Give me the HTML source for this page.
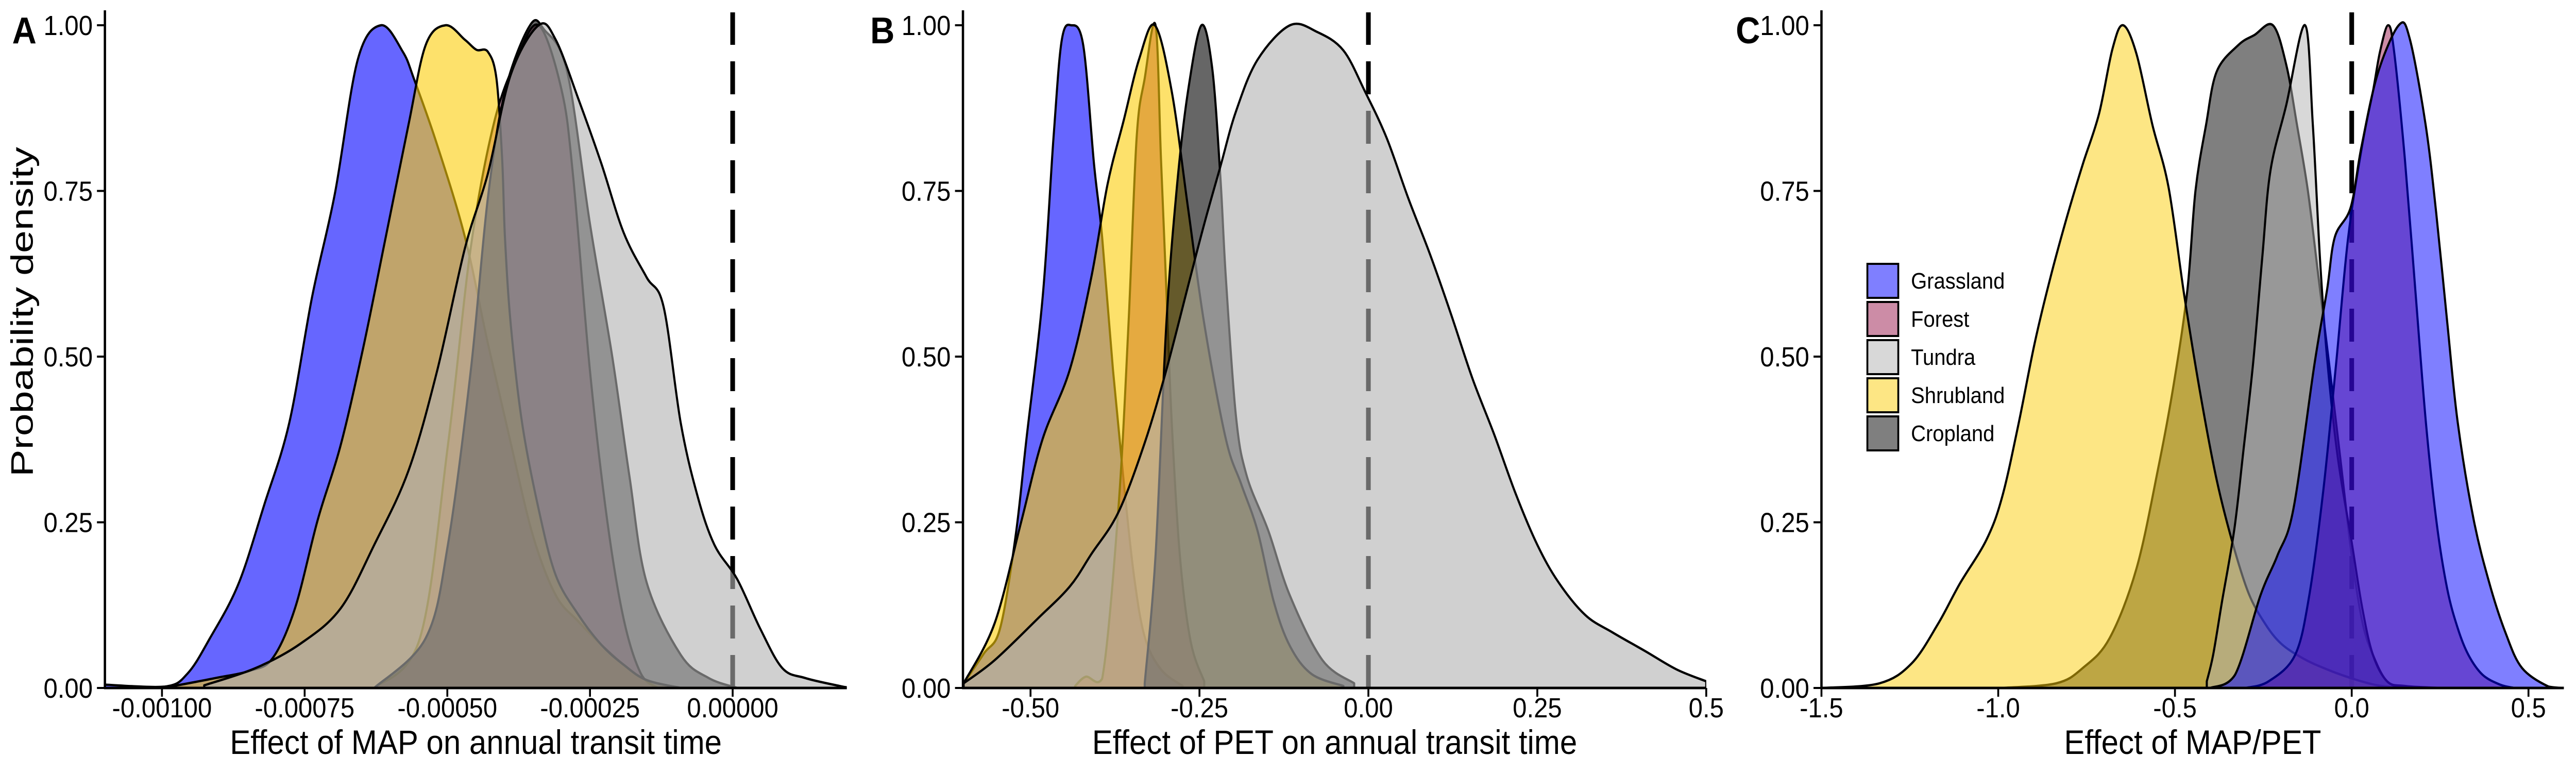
<!DOCTYPE html>
<html><head><meta charset="utf-8"><style>
html,body{margin:0;padding:0;background:#fff;width:100%;height:100%;overflow:hidden;}
svg{display:block;width:100vw;height:100vh;font-family:"Liberation Sans",Arial,sans-serif;}
</style></head><body>
<svg id="chart" viewBox="0 0 5500 1500" preserveAspectRatio="none" xmlns="http://www.w3.org/2000/svg"></svg>
<script>
// ---------- DATA ----------
const seriesNames = ["Grassland","Forest","Tundra","Shrubland","Cropland"];
const baseColors = {Grassland:"#0000ff",Forest:"rgb(153,25,77)",Tundra:"rgb(177,177,177)",Shrubland:"rgb(251,205,9)",Cropland:"#000000"};

// Panel A (Effect of MAP)
const aGrassX=[-11.0,-9.95,-9.55,-9.16,-8.66,-8.21,-7.77,-7.37,-6.97,-6.57,-6.16,-5.78,-5.58,-5.18,-4.69,-4.29,-3.89,-3.50,-3.10,-2.70,-2.30,-1.91,-1.51,-0.91].map(v=>v*1e-4);
const aGrassY=[0.005,0.002,0.022,0.075,0.157,0.276,0.40,0.59,0.746,0.948,1,0.96,0.918,0.82,0.68,0.52,0.37,0.23,0.14,0.10,0.065,0.035,0.012,0];
const aForestX=[-6.28,-5.48,-4.99,-4.59,-4.19,-3.79,-3.40,-3.00,-2.80,-2.50,-2.20,-1.91,-1.61,-1.31].map(v=>v*1e-4);
const aForestY=[0,0.075,0.366,0.664,0.85,0.948,1,0.903,0.776,0.478,0.254,0.104,0.022,0];
const aTundraX=[-9.26,-8.36,-7.57,-6.87,-6.28,-5.68,-5.18,-4.69,-4.29,-3.89,-3.40,-3.10,-2.70,-2.30,-1.91,-1.51,-1.21,-0.91,-0.62,-0.32,0.08,0.48,0.87,1.27,1.87,2.0].map(v=>v*1e-4);
const aTundraY=[0.004,0.03,0.067,0.12,0.216,0.328,0.478,0.664,0.776,0.925,1,0.978,0.888,0.791,0.687,0.62,0.575,0.40,0.291,0.216,0.164,0.09,0.03,0.015,0.003,0.001];
const aShrubX=[-9.85,-9.06,-8.46,-8.06,-7.67,-7.27,-6.87,-6.47,-6.08,-5.68,-5.38,-5.03,-4.69,-4.49,-4.29,-4.14,-4.04,-3.99,-3.89,-3.69,-3.40,-3.10,-2.70,-2.30,-1.91,-1.51,-0.91].map(v=>v*1e-4);
const aShrubY=[0.002,0.015,0.026,0.045,0.12,0.254,0.366,0.515,0.68,0.85,0.97,1,0.978,0.963,0.96,0.92,0.80,0.68,0.55,0.40,0.27,0.17,0.11,0.065,0.035,0.012,0];
const aCropX=[-6.28,-5.38,-4.99,-4.59,-4.29,-3.99,-3.55,-3.30,-2.90,-2.50,-2.11,-1.81,-1.51,-0.91,-0.42,0.08].map(v=>v*1e-4);
const aCropY=[0,0.075,0.216,0.478,0.739,0.90,1,0.993,0.93,0.70,0.50,0.32,0.16,0.05,0.015,0];

// Panel B (Effect of PET)
const bGrassX=[-0.599,-0.569,-0.545,-0.522,-0.506,-0.482,-0.466,-0.454,-0.44,-0.422,-0.406,-0.394,-0.378,-0.362,-0.347,-0.331,-0.307,-0.275];
const bGrassY=[0.007,0.052,0.09,0.23,0.376,0.59,0.83,0.976,1,0.97,0.79,0.68,0.48,0.31,0.17,0.077,0.028,0.003];
const bForestX=[-0.434,-0.418,-0.394,-0.370,-0.355,-0.343,-0.331,-0.315,-0.307,-0.299,-0.291,-0.279,-0.263,-0.243];
const bForestY=[0.003,0.017,0.014,0.27,0.55,0.83,0.92,1,0.8,0.6,0.4,0.2,0.07,0.01];
const bTundraX=[-0.599,-0.553,-0.49,-0.442,-0.41,-0.370,-0.331,-0.299,-0.267,-0.243,-0.219,-0.196,-0.164,-0.116,-0.076,-0.037,-0.005,0.027,0.059,0.091,0.122,0.154,0.186,0.218,0.250,0.281,0.321,0.361,0.409,0.456,0.500];
const bTundraY=[0.007,0.042,0.104,0.153,0.202,0.265,0.37,0.48,0.606,0.70,0.787,0.87,0.948,1,0.99,0.962,0.9,0.83,0.739,0.655,0.565,0.467,0.383,0.293,0.216,0.16,0.11,0.084,0.056,0.028,0.01];
const bShrubX=[-0.599,-0.553,-0.514,-0.482,-0.442,-0.41,-0.386,-0.362,-0.339,-0.316,-0.291,-0.267,-0.243,-0.211,-0.188,-0.164,-0.140,-0.116,-0.084,-0.037];
const bShrubY=[0.007,0.098,0.25,0.376,0.48,0.62,0.76,0.857,0.95,1,0.9,0.725,0.55,0.376,0.307,0.237,0.13,0.063,0.021,0.003];
const bCropX=[-0.331,-0.315,-0.299,-0.283,-0.267,-0.247,-0.231,-0.219,-0.211,-0.196,-0.180,-0.148,-0.116,-0.068,-0.021];
const bCropY=[0.007,0.2,0.55,0.76,0.9,1,0.934,0.77,0.62,0.41,0.32,0.237,0.139,0.042,0.007];

// Panel C (Effect of MAP/PET)
const cGrassX=[-0.40,-0.33,-0.258,-0.21,-0.165,-0.105,-0.07,-0.048,-0.003,0.027,0.073,0.133,0.164,0.209,0.239,0.27,0.30,0.345,0.39,0.436,0.482,0.557,0.6];
const cGrassY=[0,0.02,0.14,0.2,0.27,0.49,0.6,0.68,0.725,0.815,0.926,1,0.98,0.85,0.717,0.553,0.40,0.254,0.157,0.082,0.03,0.002,0];
const cForestX=[-0.3,-0.235,-0.16,-0.12,-0.08,-0.044,-0.01,0.03,0.06,0.08,0.103,0.12,0.15,0.18,0.21,0.24,0.27,0.3,0.33,0.37,0.42,0.46];
const cForestY=[0,0.01,0.05,0.14,0.3,0.49,0.68,0.82,0.9,0.96,1,0.96,0.8,0.6,0.4,0.25,0.15,0.09,0.05,0.02,0.005,0];
const cTundraX=[-0.41,-0.392,-0.367,-0.332,-0.306,-0.279,-0.253,-0.23,-0.185,-0.132,-0.11,-0.09,-0.07,-0.04,0,0.03,0.06,0.1,0.15];
const cTundraY=[0.01,0.05,0.13,0.24,0.36,0.49,0.65,0.78,0.88,1,0.85,0.65,0.5,0.35,0.22,0.12,0.05,0.01,0];
const cShrubX=[-1.495,-1.336,-1.245,-1.170,-1.109,-1.033,-0.988,-0.942,-0.897,-0.852,-0.806,-0.761,-0.715,-0.677,-0.647,-0.609,-0.564,-0.518,-0.473,-0.427,-0.382,-0.336,-0.291,-0.245,-0.2,-0.139,-0.079,-0.003,0.073,0.148];
const cShrubY=[0,0.007,0.037,0.097,0.157,0.224,0.29,0.40,0.52,0.62,0.71,0.79,0.866,0.964,1,0.957,0.85,0.755,0.59,0.44,0.314,0.217,0.142,0.097,0.067,0.045,0.03,0.015,0.004,0];
const cCropX=[-0.988,-0.836,-0.761,-0.685,-0.609,-0.548,-0.503,-0.465,-0.442,-0.412,-0.382,-0.321,-0.276,-0.223,-0.185,-0.155,-0.124,-0.094,-0.064,-0.033,0,0.03,0.06,0.1,0.15,0.25];
const cCropY=[0,0.007,0.03,0.075,0.18,0.33,0.46,0.6,0.75,0.85,0.93,0.97,0.985,1,0.94,0.85,0.75,0.62,0.49,0.35,0.2,0.1,0.05,0.01,0.003,0];

const yTicks=[0,0.25,0.5,0.75,1];
const yTickLabels=["0.00","0.25","0.50","0.75","1.00"];
const aTicks=[-0.001,-0.00075,-0.0005,-0.00025,0];
const aTickLabels=["-0.00100","-0.00075","-0.00050","-0.00025","0.00000"];
const bTicks=[-0.5,-0.25,0,0.25,0.5];
const bTickLabels=["-0.50","-0.25","0.00","0.25","0.5"];
const cTicks=[-1.5,-1.0,-0.5,0,0.5];
const cTickLabels=["-1.5","-1.0","-0.5","0.0","0.5"];

// ---------- LAYOUT ----------
const NS="http://www.w3.org/2000/svg";
const svg=document.getElementById('chart');
const Y0=1335, Y1=49;
function yScale(v){return Y0+(Y1-Y0)*v;}
function mk(tag,attrs,parent){const e=document.createElementNS(NS,tag);for(const k in attrs)e.setAttribute(k,attrs[k]);(parent||svg).appendChild(e);return e;}

const panels=[
 {id:"a",letter:"A",lx:26,px0:224,px1:1808,d0:-0.0011,d1:0.0002,ticks:aTicks,labels:aTickLabels,title:"Effect of MAP on annual transit time",alpha:0.6,
  order:["Grassland","Forest","Shrubland","Cropland","Tundra"],forestAlpha:0.45,
  data:{Grassland:[aGrassX,aGrassY],Forest:[aForestX,aForestY],Tundra:[aTundraX,aTundraY],Shrubland:[aShrubX,aShrubY],Cropland:[aCropX,aCropY]}},
 {id:"b",letter:"B",lx:1858,px0:2056,px1:3643,d0:-0.6,d1:0.5,ticks:bTicks,labels:bTickLabels,title:"Effect of PET on annual transit time",alpha:0.6,
  order:["Grassland","Forest","Shrubland","Cropland","Tundra"],forestAlpha:0.6,
  data:{Grassland:[bGrassX,bGrassY],Forest:[bForestX,bForestY],Tundra:[bTundraX,bTundraY],Shrubland:[bShrubX,bShrubY],Cropland:[bCropX,bCropY]}},
 {id:"c",letter:"C",lx:3706,px0:3889,px1:5474,d0:-1.5,d1:0.6,ticks:cTicks,labels:cTickLabels,title:"Effect of MAP/PET",alpha:0.5,
  order:["Cropland","Shrubland","Tundra","Forest","Grassland"],forestAlpha:0.5,
  data:{Grassland:[cGrassX,cGrassY],Forest:[cForestX,cForestY],Tundra:[cTundraX,cTundraY],Shrubland:[cShrubX,cShrubY],Cropland:[cCropX,cCropY]}}
];

function smoothPath(pts){
  let d="M"+pts[0][0].toFixed(1)+","+pts[0][1].toFixed(1);
  for(let i=0;i<pts.length-1;i++){
    const p0=pts[Math.max(0,i-1)],p1=pts[i],p2=pts[i+1],p3=pts[Math.min(pts.length-1,i+2)];
    const c1x=p1[0]+(p2[0]-p0[0])/6,c1y=p1[1]+(p2[1]-p0[1])/6;
    const c2x=p2[0]-(p3[0]-p1[0])/6,c2y=p2[1]-(p3[1]-p1[1])/6;
    d+=" C"+c1x.toFixed(1)+","+Math.min(Y0,c1y).toFixed(1)+" "+c2x.toFixed(1)+","+Math.min(Y0,c2y).toFixed(1)+" "+p2[0].toFixed(1)+","+p2[1].toFixed(1);
  }
  return d;
}

const defs=mk('defs',{});
panels.forEach(p=>{
  const xs=v=>p.px0+(v-p.d0)/(p.d1-p.d0)*(p.px1-p.px0);
  const g=mk('g',{});
  
  
  const cp=mk('clipPath',{id:'clip-'+p.id},defs);
  mk('rect',{x:p.px0,y:0,width:p.px1-p.px0,height:Y0+3},cp);

  const zl=mk('line',{x1:xs(0),x2:xs(0),y1:Y0,y2:24,stroke:"#000","stroke-width":10,"stroke-dasharray":"64 32"},g);
  
  

  const dg=mk('g',{'clip-path':'url(#clip-'+p.id+')'},g);
  p.order.forEach(name=>{
    const [X,Yv]=p.data[name];
    const pts=X.map((x,i)=>[xs(x),yScale(Yv[i])]);
    let d=smoothPath(pts);
    d+=" L"+pts[pts.length-1][0].toFixed(1)+","+Y0+" L"+pts[0][0].toFixed(1)+","+Y0+" Z";
    const op=name==="Forest"?p.forestAlpha:p.alpha;
    const path=mk('path',{d:d,fill:baseColors[name],"fill-opacity":op,stroke:"#000","stroke-width":4.5,"stroke-linejoin":"round"},dg);
    
    
  });

  const ax=mk('g',{},g);
  
  
  mk('line',{x1:p.px0-2,x2:p.px1,y1:Y0,y2:Y0,stroke:"#000","stroke-width":5},ax);
  p.ticks.forEach((t,i)=>{
    mk('line',{x1:xs(t),x2:xs(t),y1:Y0,y2:Y0+17,stroke:"#000","stroke-width":4},ax);
    const tl=mk('text',{x:xs(t),y:1392,"text-anchor":"middle","font-size":54,fill:"#000"},ax);
    tl.textContent=p.labels[i];
    
    
  });
  const ay=mk('g',{},g);
  
  
  mk('line',{x1:p.px0,x2:p.px0,y1:Y0+2,y2:20,stroke:"#000","stroke-width":5},ay);
  yTicks.forEach((t,i)=>{
    mk('line',{x1:p.px0,x2:p.px0-17,y1:yScale(t),y2:yScale(t),stroke:"#000","stroke-width":4},ay);
    const tl=mk('text',{x:p.px0-26,y:yScale(t)+19,"text-anchor":"end","font-size":54,fill:"#000"},ay);
    tl.textContent=yTickLabels[i];
    
    
  });
  const tt=mk('text',{x:(p.px0+p.px1)/2,y:1463,"text-anchor":"middle","font-size":66,fill:"#000"},g);
  tt.textContent=p.title;
  
  
  const lt=mk('text',{x:p.lx,y:84,"font-size":72,"font-weight":"bold",fill:"#000"},g);
  lt.textContent=p.letter;
  
  
});

const yt=mk('text',{x:0,y:0,"text-anchor":"middle","font-size":66,textLength:640,lengthAdjust:"spacingAndGlyphs",fill:"#000",transform:"translate(70,605) rotate(-90)"});
yt.textContent="Probability density";



const leg=mk('g',{});


seriesNames.forEach((name,i)=>{
  const y=512+i*74;
  const r=mk('rect',{x:3987,y:y,width:66,height:66,fill:baseColors[name],"fill-opacity":0.5,stroke:"#000","stroke-width":4},leg);
  
  
  const t=mk('text',{x:4080,y:y+48,"font-size":44,fill:"#000"},leg);
  t.textContent=name;
  
  
});
</script>
</body></html>
